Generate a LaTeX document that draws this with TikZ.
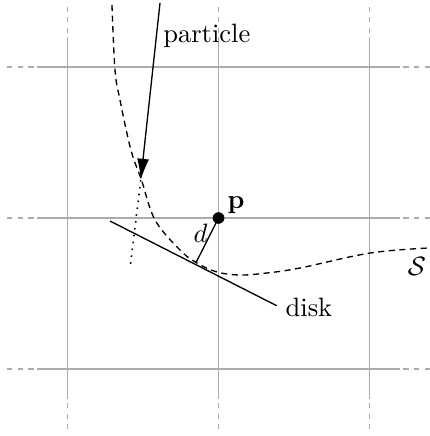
\documentclass[tikz,border=0pt]{standalone}
\usetikzlibrary{arrows.meta}
\begin{document}
\begin{tikzpicture}[
  line width=0.5pt,
  gridsolid/.style={draw=gray!65, line width=0.6pt},
  griddash/.style={draw=gray!65, line width=0.6pt, dash pattern=on 2pt off 2pt},
  surf/.style={draw=black, dash pattern=on 2.3pt off 1.7pt},
  lbl/.style={inner sep=0pt, anchor=base west}
]
\useasboundingbox (-2.894,-2.887) rectangle (2.788,2.887);
% grid
\foreach \v in {-2,0,2}{
  \draw[gridsolid] (\v,-2.4) -- (\v,2.4);
  \draw[gridsolid] (-2.4,\v) -- (2.4,\v);
  \draw[griddash] (\v,2.8) -- (\v,2.4);
  \draw[griddash] (\v,-2.8) -- (\v,-2.4);
  \draw[griddash] (-2.8,\v) -- (-2.4,\v);
  \draw[griddash] (2.8,\v) -- (2.4,\v);
}
% surface S
\draw[surf] plot[smooth, tension=0.6] coordinates {
  (-1.411,2.821) (-1.371,1.961) (-1.305,1.563) (-1.160,0.901) (-1.020,0.503)
  (-0.841,-0.026) (-0.510,-0.424) (-0.285,-0.596) (-0.020,-0.715)
  (0.285,-0.755) (0.642,-0.728) (1.079,-0.662) (2.007,-0.464) (2.788,-0.397)};
% points
\coordinate (p) at (0,0);
\coordinate (foot) at (-0.300,-0.595);
\coordinate (diskA) at (-1.437,-0.040);
\coordinate (diskB) at (0.771,-1.162);
\coordinate (pstart) at (-0.775,2.848);
\coordinate (ptip) at (-1.030,0.503);
\coordinate (pend) at (-1.172,-0.662);
% disk
\draw (diskA) -- (diskB);
\draw (p) -- (foot);
% particle
\draw[-{Latex[length=8pt,width=4.5pt]}] (pstart) -- (ptip);
\draw[dotted, line width=0.6pt] (ptip) -- (pend);
\fill (p) circle (2.2pt);
% labels
\node[lbl] (lpart) at (-0.74,2.33) {particle};
\node[lbl] (ldisk) at (0.88,-1.31) {disk};
\node[lbl] (ld) at (-0.34,-0.33) {$d$};
\node[lbl] (lS) at (2.497,-0.755) {$\mathcal{S}$};
\node[lbl] (lp) at (0.113,0.132) {$\mathbf{p}$};
\end{tikzpicture}
\end{document}
